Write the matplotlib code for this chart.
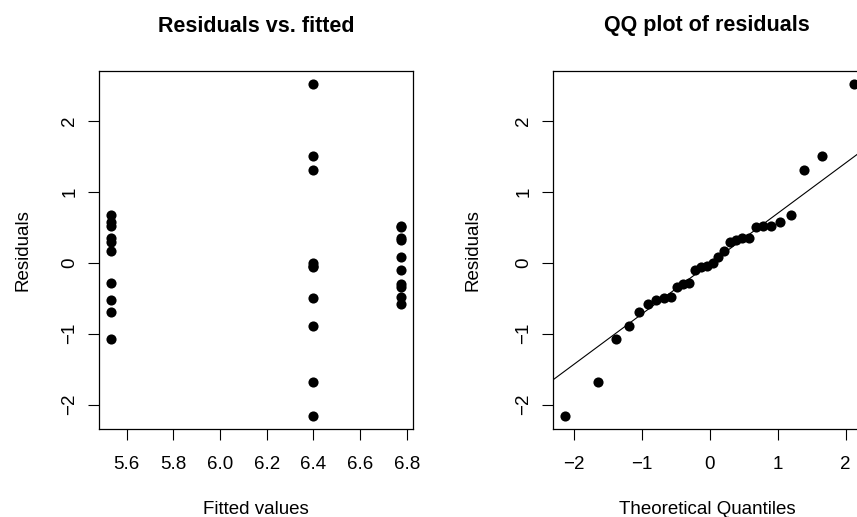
import matplotlib
matplotlib.use("Agg")
import matplotlib.pyplot as plt
import numpy as np

plt.rcParams['font.family'] = ['Liberation Sans', 'DejaVu Sans']

# Fitted values per group (3 groups, 10 observations each)
fitted_levels = [5.532, 6.398, 6.776]
resid_g1 = [0.67, 0.57, 0.52, 0.35, 0.29, 0.17, -0.29, -0.52, -0.69, -1.07]
resid_g2 = [2.51, 1.50, 1.31, -0.005, -0.05, -0.06, -0.50, -0.89, -1.68, -2.16]
resid_g3 = [0.51, 0.50, 0.35, 0.32, 0.08, -0.10, -0.30, -0.35, -0.48, -0.58]

# Normal theoretical quantiles for ppoints(30) (lower half; upper half symmetric)
theo_lower = [-2.128, -1.645, -1.383, -1.192, -1.036, -0.903, -0.784, -0.674,
              -0.573, -0.477, -0.385, -0.297, -0.210, -0.126, -0.042]

left_xticks = [5.6, 5.8, 6.0, 6.2, 6.4, 6.6, 6.8]
yticks = [-2, -1, 0, 1, 2]
qq_xticks = [-2, -1, 0, 1, 2]

W, H = 857, 517
fig = plt.figure(figsize=(W / 100, H / 100), dpi=100)

def frac_box(x0, x1, ytop, ybot):
    return [x0 / W, 1 - ybot / H, (x1 - x0) / W, (ybot - ytop) / H]

ax1 = fig.add_axes(frac_box(99.3, 412.7, 71, 429.3))
ax2 = fig.add_axes(frac_box(553.3, 866, 71, 429.3))

fs = 13.5
msize = 7.3

fitted = np.concatenate([np.full(len(resid_g1), fitted_levels[0]),
                         np.full(len(resid_g2), fitted_levels[1]),
                         np.full(len(resid_g3), fitted_levels[2])])
resid = np.concatenate([resid_g1, resid_g2, resid_g3])

ax1.plot(fitted, resid, 'o', color='black', markersize=msize, markeredgewidth=0)

def rlim(v):
    lo, hi = np.min(v), np.max(v)
    d = (hi - lo) * 0.04
    return lo - d, hi + d

ax1.set_xlim(*rlim(fitted))
ax1.set_ylim(*rlim(resid))
ax1.set_xticks(left_xticks)
ax1.set_xticklabels([f"{t:.1f}" for t in left_xticks])
ax1.set_yticks(yticks)

theo = np.concatenate([theo_lower, -np.array(theo_lower[::-1])])
sres = np.sort(resid)
ax2.plot(theo, sres, 'o', color='black', markersize=msize, markeredgewidth=0)
ax2.set_xlim(*rlim(theo))
ax2.set_ylim(*rlim(sres))
ax2.set_xticks(qq_xticks)
ax2.set_yticks(yticks)

# qqline through quartiles
q25, q75 = np.quantile(sres, [0.25, 0.75])
z25, z75 = -0.6745, 0.6745
slope = (q75 - q25) / (z75 - z25)
inter = q25 - slope * z25
xl = np.array(ax2.get_xlim())
ax2.plot(xl, inter + slope * xl, color='black', linewidth=0.8)

for ax in (ax1, ax2):
    for s in ax.spines.values():
        s.set_linewidth(0.9)
    ax.tick_params(axis='both', direction='out', length=8, width=0.8,
                   labelsize=fs, pad=7)
    ax.tick_params(axis='x', pad=11)
    for lab in ax.get_yticklabels():
        lab.set_rotation(90)
        lab.set_va('center')

def ptext(x, y, s, size=fs, **kw):
    fig.text(x / W, 1 - y / H, s, ha='center', va='center', fontsize=size, **kw)

ptext(256, 26, "Residuals vs. fitted", size=15.5, fontweight='bold')
ptext(707, 26, "QQ plot of residuals", size=15.5, fontweight='bold')
ptext(256, 509, "Fitted values")
ptext(707, 509, "Theoretical Quantiles")
ptext(23, 250, "Residuals", rotation=90)
ptext(473, 250, "Residuals", rotation=90)

fig.savefig("out.png", dpi=100)
